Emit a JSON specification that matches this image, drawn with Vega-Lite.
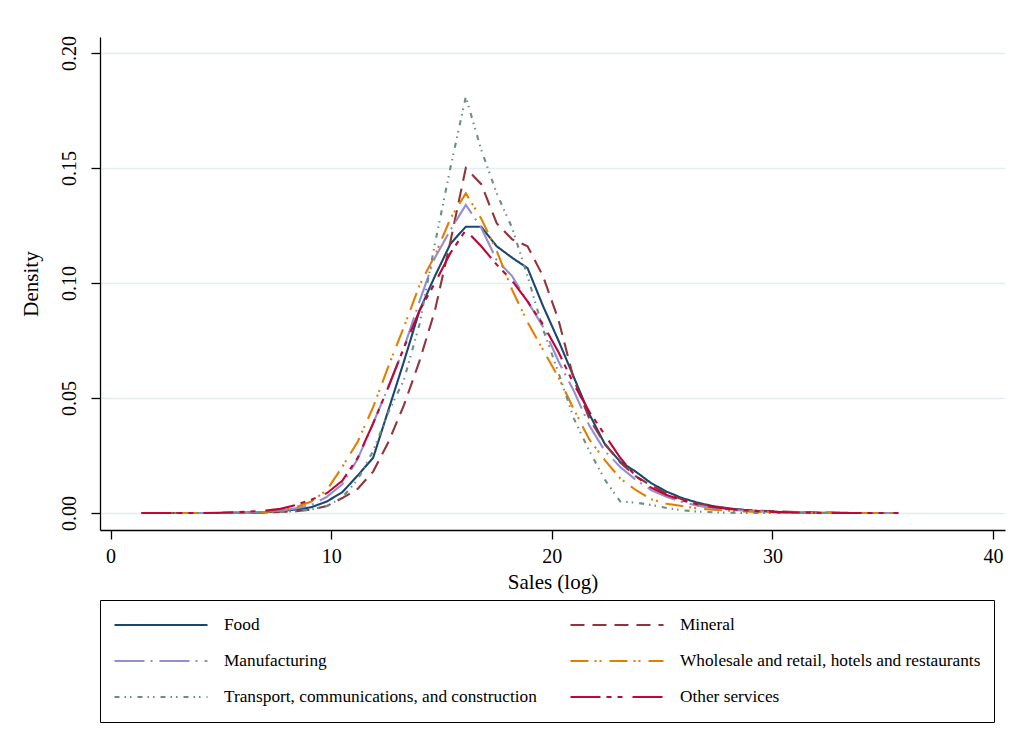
{
  "$schema": "https://vega.github.io/schema/vega-lite/v6.json",
  "width": 905,
  "height": 493,
  "autosize": {"type": "none"},
  "padding": {"left": 100, "top": 37, "right": 21, "bottom": 221},
  "background": "white",
  "config": {
    "font": "Liberation Serif",
    "view": {"stroke": null},
    "axis": {
      "domainColor": "black",
      "domainWidth": 1.3,
      "tickColor": "black",
      "tickWidth": 1.3,
      "tickSize": 9,
      "labelColor": "black",
      "titleColor": "black",
      "labelFont": "Liberation Serif",
      "titleFont": "Liberation Serif",
      "labelFontSize": 20,
      "titleFontSize": 21,
      "titleFontWeight": "normal"
    }
  },
  "data": {
    "values": [
      {"x": 1.4, "food": 0, "mineral": 0, "manuf": 0, "trade": 0, "transport": 0, "other": 0},
      {"x": 2.1, "food": 0, "mineral": 0, "manuf": 0, "trade": 0, "transport": 0, "other": 0},
      {"x": 2.8, "food": 0, "mineral": 0, "manuf": 0, "trade": 0, "transport": 0, "other": 0},
      {"x": 3.5, "food": 0, "mineral": 0, "manuf": 0, "trade": 0, "transport": 0, "other": 0},
      {"x": 4.2, "food": 0, "mineral": 0, "manuf": 0, "trade": 0, "transport": 0, "other": 0},
      {"x": 4.9, "food": 0, "mineral": 0, "manuf": 0, "trade": 0, "transport": 0, "other": 0.0001},
      {"x": 5.6, "food": 0.0001, "mineral": 0, "manuf": 0.0001, "trade": 0.0002, "transport": 0, "other": 0.0003},
      {"x": 6.3, "food": 0.0002, "mineral": 0.0001, "manuf": 0.0003, "trade": 0.0003, "transport": 0.0001, "other": 0.0006},
      {"x": 7.0, "food": 0.0003, "mineral": 0.0002, "manuf": 0.0005, "trade": 0.0005, "transport": 0.0002, "other": 0.001},
      {"x": 7.7, "food": 0.0008, "mineral": 0.0004, "manuf": 0.001, "trade": 0.0012, "transport": 0.0004, "other": 0.0018},
      {"x": 8.4, "food": 0.0015, "mineral": 0.0008, "manuf": 0.002, "trade": 0.0025, "transport": 0.0008, "other": 0.0035},
      {"x": 9.1, "food": 0.0025, "mineral": 0.0015, "manuf": 0.0035, "trade": 0.005, "transport": 0.0015, "other": 0.0058},
      {"x": 9.8, "food": 0.005, "mineral": 0.003, "manuf": 0.007, "trade": 0.01, "transport": 0.003, "other": 0.0086},
      {"x": 10.5, "food": 0.009, "mineral": 0.0065, "manuf": 0.0125, "trade": 0.02, "transport": 0.0068, "other": 0.014},
      {"x": 11.2, "food": 0.0163, "mineral": 0.0105, "manuf": 0.0235, "trade": 0.031, "transport": 0.0145, "other": 0.024},
      {"x": 11.9, "food": 0.024, "mineral": 0.018, "manuf": 0.039, "trade": 0.046, "transport": 0.027, "other": 0.039},
      {"x": 12.6, "food": 0.045, "mineral": 0.031, "manuf": 0.055, "trade": 0.064, "transport": 0.044, "other": 0.055},
      {"x": 13.3, "food": 0.066, "mineral": 0.047, "manuf": 0.072, "trade": 0.081, "transport": 0.058, "other": 0.072},
      {"x": 14.0, "food": 0.088, "mineral": 0.066, "manuf": 0.092, "trade": 0.099, "transport": 0.082, "other": 0.088},
      {"x": 14.7, "food": 0.103, "mineral": 0.088, "manuf": 0.111, "trade": 0.112, "transport": 0.117, "other": 0.1},
      {"x": 15.4, "food": 0.117, "mineral": 0.118, "manuf": 0.123, "trade": 0.128, "transport": 0.15, "other": 0.113},
      {"x": 16.1, "food": 0.1245, "mineral": 0.15, "manuf": 0.134, "trade": 0.139, "transport": 0.181, "other": 0.123},
      {"x": 16.8, "food": 0.1245, "mineral": 0.143, "manuf": 0.124, "trade": 0.128, "transport": 0.158, "other": 0.116},
      {"x": 17.5, "food": 0.116, "mineral": 0.126, "manuf": 0.11, "trade": 0.114, "transport": 0.139, "other": 0.108},
      {"x": 18.2, "food": 0.111, "mineral": 0.119, "manuf": 0.103, "trade": 0.097, "transport": 0.124, "other": 0.101},
      {"x": 18.9, "food": 0.1065, "mineral": 0.116, "manuf": 0.092, "trade": 0.083, "transport": 0.103, "other": 0.092},
      {"x": 19.6, "food": 0.09, "mineral": 0.103, "manuf": 0.081, "trade": 0.071, "transport": 0.08, "other": 0.082},
      {"x": 20.3, "food": 0.075, "mineral": 0.084, "manuf": 0.066, "trade": 0.059, "transport": 0.061, "other": 0.07},
      {"x": 21.0, "food": 0.059, "mineral": 0.058, "manuf": 0.053, "trade": 0.045, "transport": 0.041, "other": 0.056},
      {"x": 21.7, "food": 0.043, "mineral": 0.041, "manuf": 0.038, "trade": 0.032, "transport": 0.027, "other": 0.044},
      {"x": 22.4, "food": 0.03, "mineral": 0.03, "manuf": 0.027, "trade": 0.023, "transport": 0.0145, "other": 0.034},
      {"x": 23.1, "food": 0.0223, "mineral": 0.022, "manuf": 0.02, "trade": 0.015, "transport": 0.005, "other": 0.024},
      {"x": 23.8, "food": 0.018, "mineral": 0.016, "manuf": 0.0145, "trade": 0.01, "transport": 0.0045, "other": 0.016},
      {"x": 24.5, "food": 0.013, "mineral": 0.012, "manuf": 0.01, "trade": 0.006, "transport": 0.0035, "other": 0.011},
      {"x": 25.2, "food": 0.0093, "mineral": 0.0085, "manuf": 0.007, "trade": 0.004, "transport": 0.0022, "other": 0.0078},
      {"x": 25.9, "food": 0.0065, "mineral": 0.006, "manuf": 0.0048, "trade": 0.003, "transport": 0.0012, "other": 0.0055},
      {"x": 26.6, "food": 0.0045, "mineral": 0.004, "manuf": 0.0032, "trade": 0.002, "transport": 0.0006, "other": 0.0038},
      {"x": 27.3, "food": 0.003, "mineral": 0.0028, "manuf": 0.0022, "trade": 0.0014, "transport": 0.0003, "other": 0.0026},
      {"x": 28.0, "food": 0.002, "mineral": 0.002, "manuf": 0.0015, "trade": 0.001, "transport": 0.0001, "other": 0.0018},
      {"x": 28.7, "food": 0.0013, "mineral": 0.0014, "manuf": 0.001, "trade": 0.0007, "transport": 0, "other": 0.0012},
      {"x": 29.4, "food": 0.0008, "mineral": 0.001, "manuf": 0.0007, "trade": 0.0005, "transport": 0, "other": 0.0008},
      {"x": 30.1, "food": 0.0005, "mineral": 0.0007, "manuf": 0.0005, "trade": 0.0003, "transport": 0, "other": 0.0005},
      {"x": 30.8, "food": 0.0003, "mineral": 0.0005, "manuf": 0.0003, "trade": 0.0002, "transport": 0, "other": 0.0003},
      {"x": 31.5, "food": 0.0002, "mineral": 0.0003, "manuf": 0.0002, "trade": 0.0001, "transport": 0, "other": 0.0002},
      {"x": 32.2, "food": 0.0001, "mineral": 0.0002, "manuf": 0.0001, "trade": 0, "transport": 0, "other": 0.0001},
      {"x": 32.9, "food": 0.0001, "mineral": 0.0001, "manuf": 0, "trade": 0, "transport": 0, "other": 0},
      {"x": 33.6, "food": 0, "mineral": 0, "manuf": 0, "trade": 0, "transport": 0, "other": 0},
      {"x": 34.3, "food": 0, "mineral": 0, "manuf": 0, "trade": 0, "transport": 0, "other": 0},
      {"x": 35.0, "food": 0, "mineral": 0, "manuf": 0, "trade": 0, "transport": 0, "other": 0},
      {"x": 35.7, "food": 0, "mineral": 0, "manuf": 0, "trade": 0, "transport": 0, "other": 0}
    ]
  },
  "transform": [
    {"fold": ["food", "mineral", "manuf", "trade", "transport", "other"], "as": ["sector", "density"]}
  ],
  "mark": {"type": "line", "strokeWidth": 2.1},
  "encoding": {
    "x": {
      "field": "x",
      "type": "quantitative",
      "scale": {"domain": [-0.48, 40.54], "nice": false, "zero": false},
      "axis": {
        "values": [0, 10, 20, 30, 40],
        "title": "Sales (log)",
        "grid": false,
        "labelPadding": 7,
        "titlePadding": 5
      }
    },
    "y": {
      "field": "density",
      "type": "quantitative",
      "scale": {"domain": [-0.0074, 0.207], "nice": false, "zero": false},
      "axis": {
        "values": [0, 0.05, 0.1, 0.15, 0.2],
        "format": ".2f",
        "title": "Density",
        "grid": true,
        "gridColor": "#E4EDF0",
        "gridWidth": 1.5,
        "labelAngle": -90,
        "labelAlign": "center",
        "labelBaseline": "bottom",
        "labelPadding": 12,
        "titlePadding": 18
      }
    },
    "color": {
      "field": "sector",
      "type": "nominal",
      "scale": {
        "domain": ["food", "manuf", "transport", "mineral", "trade", "other"],
        "range": ["#1A476F", "#938DD2", "#6E8E84", "#90353B", "#E37E00", "#C10534"]
      },
      "legend": {
        "orient": "none",
        "legendX": 0,
        "legendY": 563,
        "columns": 2,
        "title": null,
        "symbolType": "stroke",
        "symbolSize": 8650,
        "symbolStrokeWidth": 2.1,
        "clipHeight": 24,
        "labelFontSize": 17.3,
        "labelFont": "Liberation Serif",
        "labelColor": "black",
        "labelOffset": 15,
        "labelLimit": 600,
        "rowPadding": 12,
        "columnPadding": 32,
        "padding": 13,
        "strokeColor": "black",
        "fillColor": "white",
        "labelExpr": "{'food': 'Food', 'mineral': 'Mineral', 'manuf': 'Manufacturing', 'trade': 'Wholesale and retail, hotels and restaurants', 'transport': 'Transport, communications, and construction', 'other': 'Other services'}[datum.label]"
      }
    },
    "strokeDash": {
      "field": "sector",
      "type": "nominal",
      "scale": {
        "domain": ["food", "manuf", "transport", "mineral", "trade", "other"],
        "range": [[1, 0], [30, 6, 2, 7], [5, 5, 1.5, 4, 1.5, 6], [14, 8], [18, 6, 2, 3, 2, 8], [30, 6, 5, 6, 5, 10]]
      },
      "legend": {
        "orient": "none",
        "legendX": 0,
        "legendY": 563,
        "columns": 2,
        "title": null,
        "symbolType": "stroke",
        "symbolSize": 8650,
        "symbolStrokeWidth": 2.1,
        "clipHeight": 24,
        "labelFontSize": 17.3,
        "labelFont": "Liberation Serif",
        "labelColor": "black",
        "labelOffset": 15,
        "labelLimit": 600,
        "rowPadding": 12,
        "columnPadding": 32,
        "padding": 13,
        "strokeColor": "black",
        "fillColor": "white",
        "labelExpr": "{'food': 'Food', 'mineral': 'Mineral', 'manuf': 'Manufacturing', 'trade': 'Wholesale and retail, hotels and restaurants', 'transport': 'Transport, communications, and construction', 'other': 'Other services'}[datum.label]"
      }
    }
  }
}
